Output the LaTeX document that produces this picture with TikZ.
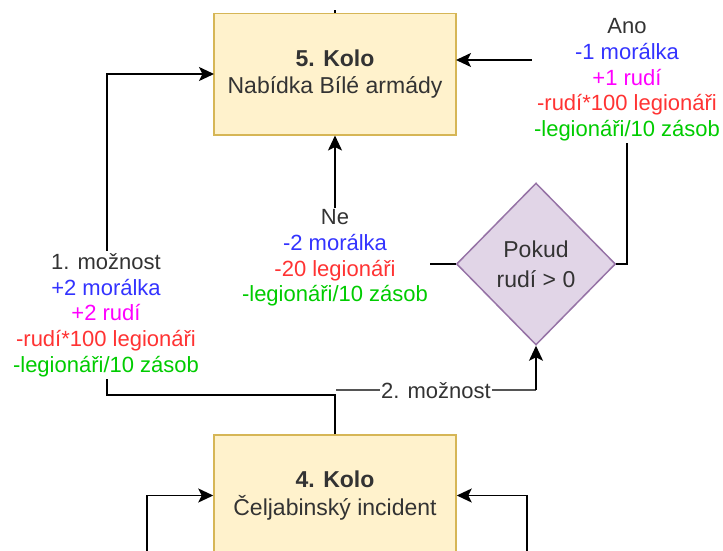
\documentclass[tikz,border=0pt]{standalone}
\usepackage{fontspec}
\setmainfont{Liberation Sans}
\usetikzlibrary{shapes.geometric,arrows.meta}
\definecolor{boxfill}{HTML}{FFF2CC}
\definecolor{boxline}{HTML}{D6B656}
\definecolor{diafill}{HTML}{E1D5E7}
\definecolor{dialine}{HTML}{9673A6}
\definecolor{txt}{HTML}{333333}
\definecolor{cblue}{HTML}{3333FF}
\definecolor{cmag}{HTML}{FF00FF}
\definecolor{cred}{HTML}{FF3333}
\definecolor{cgreen}{HTML}{00CC00}
\definecolor{grayline}{HTML}{555555}
\begin{document}
\begin{tikzpicture}[x=1pt,y=-1pt,
 kolo/.style={draw=boxline, fill=boxfill, line width=1.5pt, minimum width=242pt, minimum height=121pt, inner sep=0pt, align=center, text=txt, font=\fontsize{23}{27.5}\selectfont},
 cond/.style={shape=diamond, draw=dialine, fill=diafill, line width=1.5pt, minimum width=159pt, minimum height=162pt, inner sep=0pt, align=center, text=txt, font=\fontsize{23}{30}\selectfont},
 lbl/.style={fill=white, inner sep=2pt, align=center, text=txt, font=\fontsize{22}{25.7}\selectfont},
 conn/.style={draw=black, line width=1.8pt},
 arr/.style={conn, -{Stealth[length=15pt,width=14pt,inset=3.5pt]}},
]
\useasboundingbox (0,0) rectangle (723,551);
\clip (0,0) rectangle (723,551);

% boxes
\node[kolo] (b5) at (335,74.25) {\textbf{5. Kolo}\\Nabídka Bílé armády};
\node[kolo] (b4) at (335,495.5) {\textbf{4. Kolo}\\Čeljabinský incident};
\node[cond] (dia) at (536,264) {Pokud\\rudí \textgreater{} 0};

% coordinates
\coordinate (top5) at (335,10);
\coordinate (b5r) at (456,60);
\coordinate (b5l) at (214,74);
\coordinate (inL) at (147,551);
\coordinate (inR) at (527,551);

% connectors
\draw[conn] (b5.north) -- (top5);
\draw[arr] (dia.east) -| (627,60) -- (b5r);
\draw[arr] (dia.west) -| (b5.south);
\draw[arr] (b4.north) |- (107,395) |- (b5l);
\draw[conn, draw=grayline] (336,390) -- (536,390);
\draw[arr] (536,390) -- (dia.south);
\draw[arr] (inL) |- (b4.west);
\draw[arr] (inR) |- (b4.east);

% labels
\node[lbl] (lano) at (627,80) {Ano\\\textcolor{cblue}{-1 morálka}\\\textcolor{cmag}{+1 rudí}\\\textcolor{cred}{-rudí*100 legionáři}\\\textcolor{cgreen}{-legionáři/10 zásob}};
\node[lbl] (lne) at (335,258) {Ne\\\textcolor{cblue}{-2 morálka}\\\textcolor{cred}{-20 legionáři}\\\textcolor{cgreen}{-legionáři/10 zásob}};
\node[lbl] (l1) at (106,315) {1. možnost\\\textcolor{cblue}{+2 morálka}\\\textcolor{cmag}{+2 rudí}\\\textcolor{cred}{-rudí*100 legionáři}\\\textcolor{cgreen}{-legionáři/10 zásob}};
\node[lbl, inner sep=1pt] (l2) at (436,391) {2. možnost};
\end{tikzpicture}
\end{document}
